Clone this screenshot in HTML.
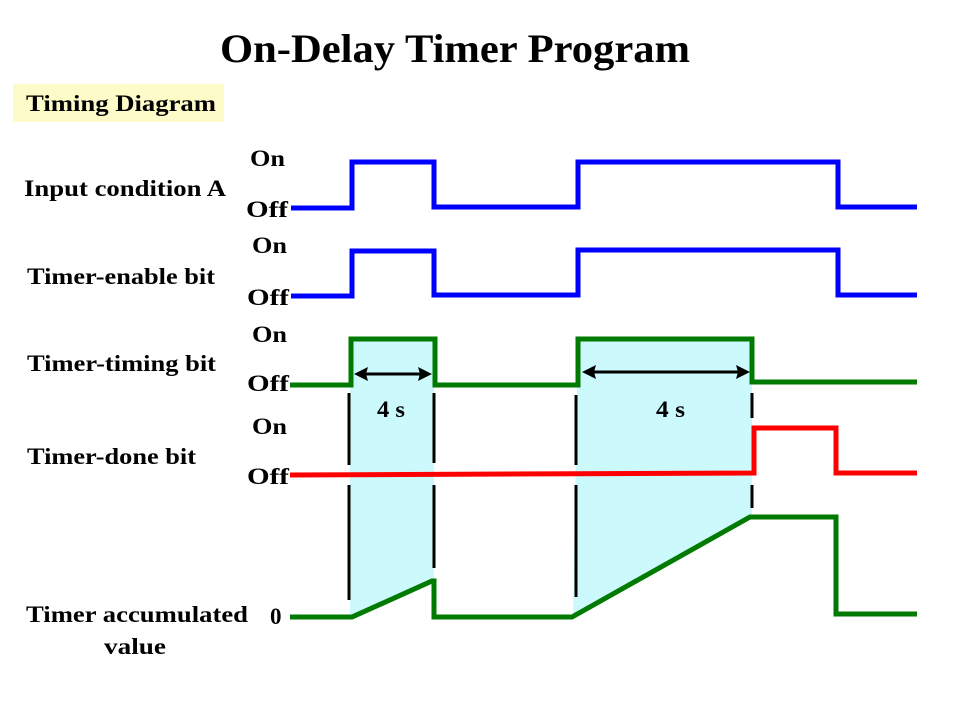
<!DOCTYPE html>
<html><head><meta charset="utf-8"><style>
body{margin:0;background:#fff;}
svg{display:block;}
text{font-family:"Liberation Serif",serif;font-weight:bold;fill:#000;}
</style></head><body>
<svg width="960" height="720" viewBox="0 0 960 720">
<text x="220" y="62" font-size="40" textLength="470" lengthAdjust="spacingAndGlyphs">On-Delay Timer Program</text>
<rect x="13" y="84" width="211" height="38" fill="#fdfbc8"/>
<polygon points="350,340 434,340 434,581 350,617" fill="#ccfafc"/>
<polygon points="578,340 752,340 752,517 573,617" fill="#ccfafc"/>
<g font-size="23" lengthAdjust="spacingAndGlyphs">
<text x="26" y="111" textLength="190" lengthAdjust="spacingAndGlyphs">Timing Diagram</text>
<text x="24" y="196" textLength="202" lengthAdjust="spacingAndGlyphs">Input condition A</text>
<text x="27" y="284" textLength="188" lengthAdjust="spacingAndGlyphs">Timer-enable bit</text>
<text x="27" y="371" textLength="189" lengthAdjust="spacingAndGlyphs">Timer-timing bit</text>
<text x="27" y="464" textLength="169" lengthAdjust="spacingAndGlyphs">Timer-done bit</text>
<text x="26" y="622" textLength="222" lengthAdjust="spacingAndGlyphs">Timer accumulated</text>
<text x="104" y="654" textLength="62" lengthAdjust="spacingAndGlyphs">value</text>
<text x="250" y="166" textLength="35" lengthAdjust="spacingAndGlyphs">On</text><text x="246" y="217" textLength="42" lengthAdjust="spacingAndGlyphs">Off</text>
<text x="252" y="253" textLength="35" lengthAdjust="spacingAndGlyphs">On</text><text x="247" y="305" textLength="42" lengthAdjust="spacingAndGlyphs">Off</text>
<text x="252" y="342" textLength="35" lengthAdjust="spacingAndGlyphs">On</text><text x="247" y="391" textLength="42" lengthAdjust="spacingAndGlyphs">Off</text>
<text x="252" y="434" textLength="35" lengthAdjust="spacingAndGlyphs">On</text><text x="247" y="484" textLength="42" lengthAdjust="spacingAndGlyphs">Off</text>
<text x="270" y="624">0</text>
<text x="377" y="417" textLength="28" lengthAdjust="spacingAndGlyphs">4 s</text>
<text x="656" y="417" textLength="29" lengthAdjust="spacingAndGlyphs">4 s</text>
</g>
<g stroke="#000" stroke-width="3" fill="none">
<line x1="349" y1="393" x2="349" y2="465"/><line x1="349" y1="485" x2="349" y2="600"/>
<line x1="434" y1="393" x2="434" y2="463"/><line x1="434" y1="485" x2="434" y2="568"/>
<line x1="576" y1="395" x2="576" y2="465"/><line x1="576" y1="485" x2="576" y2="597"/>
<line x1="752" y1="393" x2="752" y2="418"/><line x1="752" y1="485" x2="752" y2="508"/>
<line x1="360" y1="374" x2="426" y2="374"/><line x1="588" y1="372" x2="744" y2="372"/>
</g>
<g fill="#000">
<polygon points="354,374 368,367 366,374 368,381"/><polygon points="432,374 418,367 420,374 418,381"/>
<polygon points="582,372 596,365 594,372 596,379"/><polygon points="750,372 736,365 738,372 736,379"/>
</g>
<g fill="none" stroke-width="5" stroke-linejoin="miter">
<polyline stroke="#0000ff" points="291,208 352,208 352,162 434,162 434,207 578,207 578,162 838,162 838,207 917,207"/>
<polyline stroke="#0000ff" points="291,296 352,296 352,251 434,251 434,295 578,295 578,250 838,250 838,295 917,295"/>
<polyline stroke="#007a00" points="290,385 351,385 351,339 435,339 435,385 578,385 578,339 752,339 752,382 917,382"/>
<polyline stroke="#ff0000" points="290,475 754,473 754,428 836,428 836,473 917,473"/>
<polyline stroke="#007a00" points="290,617 352,617 432,581 434,581 434,617 572,617 750,517 836,517 836,614 917,614"/>
</g>
</svg>
</body></html>
